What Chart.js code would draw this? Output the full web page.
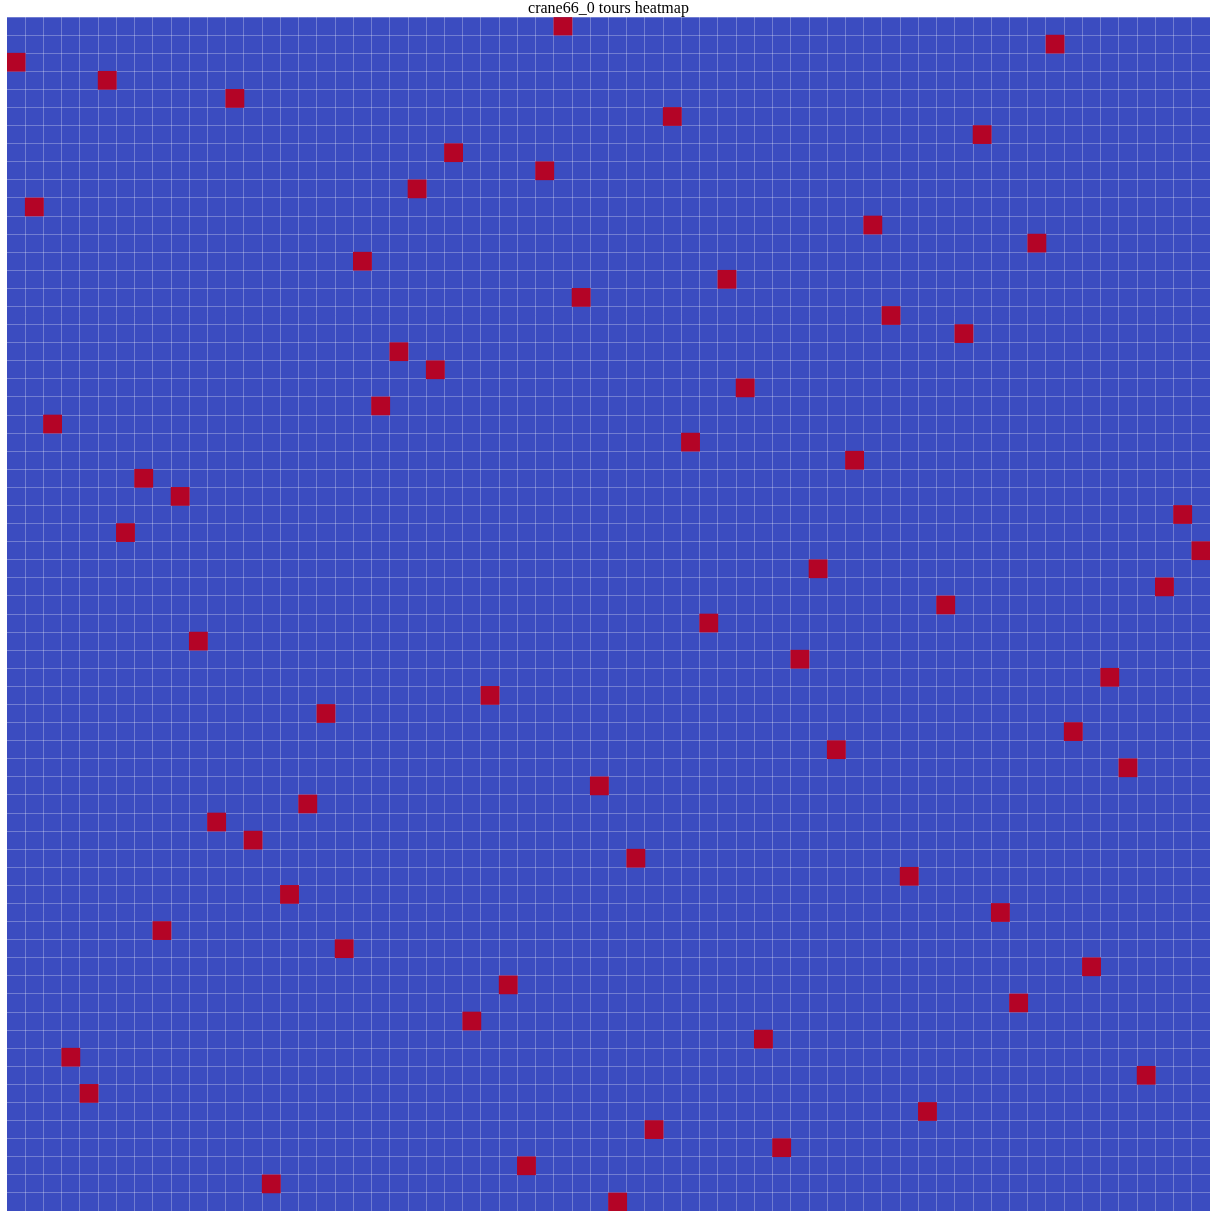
<!DOCTYPE html>
<html>
<head>
<meta charset="utf-8">
<script src="https://cdn.jsdelivr.net/npm/chart.js@4.4.1/dist/chart.umd.min.js"></script>
<style>
html,body{margin:0;padding:0;background:#fff;}
#wrap{width:1218px;height:1218px;}
</style>
</head>
<body>
<div id="wrap"><canvas id="c" width="1218" height="1218"></canvas></div>
<script>
// column of the visited cell for each row (row 0 at top)
const tourOrder = [30,57,0,5,12,36,53,24,29,22,1,47,56,19,39,31,48,52,21,23,40,20,2,37,46,7,9,64,6,65,44,63,51,38,10,43,60,26,17,58,45,61,32,16,11,13,34,49,15,54,8,18,59,27,55,25,41,3,62,4,50,35,42,28,14,33];
const nCells = 66;
const columnLabels = Array.from({length: nCells}, (_, i) => String(i));
const titleText = 'crane66_0 tours heatmap';

const lowColor = '#3b4cc0';
const highColor = '#b40426';

const cells = tourOrder.map((col, row) => ({x: columnLabels[col], y: [row, row + 1]}));

const bgPlugin = {
  id: 'bg',
  beforeDraw(chart) {
    const {ctx, chartArea: a} = chart;
    ctx.save();
    ctx.fillStyle = lowColor;
    ctx.fillRect(a.left, a.top, a.right - a.left, a.bottom - a.top);
    ctx.restore();
  }
};

new Chart(document.getElementById('c'), {
  type: 'bar',
  data: {
    labels: columnLabels,
    datasets: [{
      label: 'visited',
      data: cells,
      backgroundColor: highColor,
      borderWidth: 0,
      barPercentage: 1,
      categoryPercentage: 1,
      grouped: false
    }]
  },
  options: {
    responsive: false,
    animation: false,
    layout: {padding: {left: 7, right: 8, bottom: 7, top: 0}},
    plugins: {
      legend: {display: false},
      tooltip: {enabled: false},
      title: {
        display: true,
        text: titleText,
        color: '#000',
        font: {family: '"Liberation Serif", "DejaVu Serif", serif', size: 16, weight: 'normal', lineHeight: 1},
        padding: {top: 1, bottom: 0}
      }
    },
    scales: {
      x: {
        type: 'category',
        offset: true,
        grid: {display: true, offset: true, color: 'rgba(255,255,255,0.28)', lineWidth: 1, drawTicks: false},
        border: {display: false},
        ticks: {display: false}
      },
      y: {
        type: 'linear',
        min: 0,
        max: nCells,
        reverse: true,
        grid: {display: true, color: 'rgba(255,255,255,0.28)', lineWidth: 1, drawTicks: false},
        border: {display: false},
        ticks: {display: false, stepSize: 1, autoSkip: false}
      }
    }
  },
  plugins: [bgPlugin]
});
</script>
</body>
</html>
